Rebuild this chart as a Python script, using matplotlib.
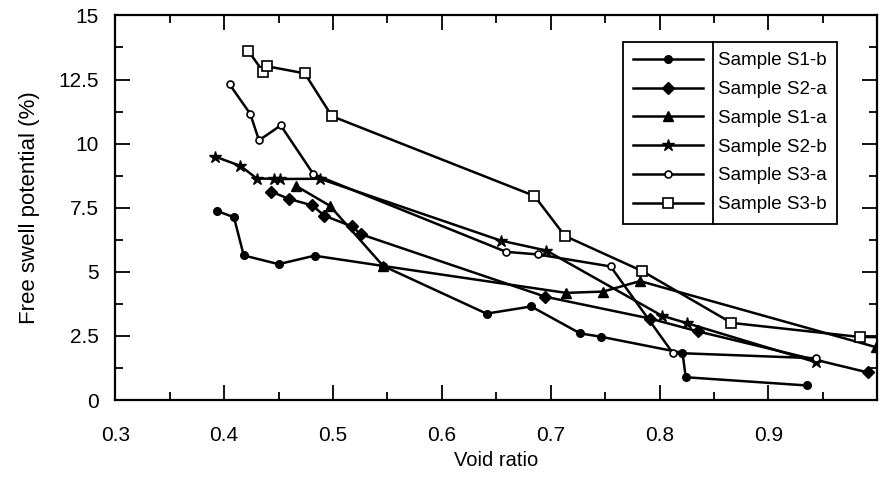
import matplotlib
matplotlib.use("Agg")
import matplotlib.pyplot as plt
from matplotlib.lines import Line2D

plt.rcParams['font.family'] = ['Liberation Sans', 'DejaVu Sans']

# void ratio / free swell potential (%)
s1b_x = [0.393, 0.409, 0.418, 0.450, 0.483, 0.546, 0.641, 0.682, 0.727, 0.746, 0.821, 0.824, 0.935]
s1b_y = [7.38, 7.13, 5.64, 5.30, 5.63, 5.23, 3.37, 3.65, 2.60, 2.47, 1.84, 0.89, 0.57]

s2a_x = [0.443, 0.460, 0.481, 0.492, 0.517, 0.526, 0.695, 0.791, 0.835, 0.991]
s2a_y = [8.13, 7.84, 7.59, 7.19, 6.78, 6.46, 4.03, 3.18, 2.68, 1.08]

s1a_x = [0.466, 0.497, 0.546, 0.714, 0.748, 0.782, 0.999]
s1a_y = [8.35, 7.58, 5.23, 4.18, 4.23, 4.64, 2.06]

s2b_x = [0.392, 0.415, 0.430, 0.446, 0.451, 0.488, 0.654, 0.696, 0.802, 0.825, 0.944]
s2b_y = [9.49, 9.13, 8.64, 8.63, 8.62, 8.63, 6.22, 5.83, 3.29, 3.00, 1.47]

s3a_x = [0.405, 0.424, 0.432, 0.452, 0.482, 0.659, 0.688, 0.755, 0.812, 0.944]
s3a_y = [12.31, 11.16, 10.13, 10.71, 8.81, 5.78, 5.68, 5.21, 1.84, 1.63]

s3b_x = [0.422, 0.436, 0.439, 0.474, 0.499, 0.685, 0.713, 0.784, 0.866, 0.984, 1.01]
s3b_y = [13.63, 12.79, 13.02, 12.74, 11.07, 7.96, 6.40, 5.03, 3.01, 2.46, 2.45]

labels = ['Sample S1-b', 'Sample S2-a', 'Sample S1-a', 'Sample S2-b', 'Sample S3-a', 'Sample S3-b']

fig = plt.figure(figsize=(8.8, 4.82), dpi=100)
ax = fig.add_axes([0.131, 0.17, 0.866, 0.798])

lw = 1.8
ax.plot(s1b_x, s1b_y, color='black', lw=lw, marker='o', ms=5.5, label=labels[0])
ax.plot(s2a_x, s2a_y, color='black', lw=lw, marker='D', ms=6, label=labels[1])
ax.plot(s1a_x, s1a_y, color='black', lw=lw, marker='^', ms=7, label=labels[2])
ax.plot(s2b_x, s2b_y, color='black', lw=lw, marker='*', ms=9, label=labels[3])
ax.plot(s3a_x, s3a_y, color='black', lw=lw, marker='o', ms=5, mfc='white', mew=1.2, label=labels[4])
ax.plot(s3b_x, s3b_y, color='black', lw=lw, marker='s', ms=7.5, mfc='white', mew=1.2, label=labels[5])

ax.set_xlim(0.3, 1.0)
ax.set_ylim(0, 15)
ax.set_xticks([0.3, 0.4, 0.5, 0.6, 0.7, 0.8, 0.9])
ax.set_xticks([0.35, 0.45, 0.55, 0.65, 0.75, 0.85, 0.95], minor=True)
ax.set_yticks([0, 2.5, 5, 7.5, 10, 12.5, 15])
ax.set_yticklabels(['0', '2.5', '5', '7.5', '10', '12.5', '15'])
ax.set_yticks([1.25, 3.75, 6.25, 8.75, 11.25, 13.75], minor=True)
ax.tick_params(which='both', direction='in', top=True, right=True, width=1.3)
ax.tick_params(which='major', length=11, labelsize=15)
ax.tick_params(axis='x', which='major', pad=19)
ax.tick_params(axis='y', which='major', pad=12)
ax.tick_params(which='minor', length=6)
for s in ax.spines.values():
    s.set_linewidth(1.6)

ax.set_xlabel('Void ratio', fontsize=14.5, labelpad=4)
ax.set_ylabel('Free swell potential (%)', fontsize=16, labelpad=13)

leg = ax.legend(loc='upper left', bbox_to_anchor=(623 / 880, 1 - 42 / 482),
                bbox_transform=fig.transFigure, fontsize=13.5, frameon=True,
                fancybox=False, edgecolor='black', framealpha=1,
                handlelength=3.7, labelspacing=0.62, borderpad=0.55,
                handletextpad=0.8, borderaxespad=0)
leg.get_frame().set_linewidth(1.3)

# divider between handles and labels in legend box
fig.canvas.draw()
r = fig.canvas.get_renderer()
fb = leg.get_frame().get_window_extent(r)
tx = min(t.get_window_extent(r).x0 for t in leg.get_texts())
xd = (tx - 5) / fig.bbox.width
fig.add_artist(Line2D([xd, xd], [fb.y0 / fig.bbox.height, fb.y1 / fig.bbox.height],
                      transform=fig.transFigure, color='black', lw=1.3))

fig.savefig('out.png', dpi=100)
